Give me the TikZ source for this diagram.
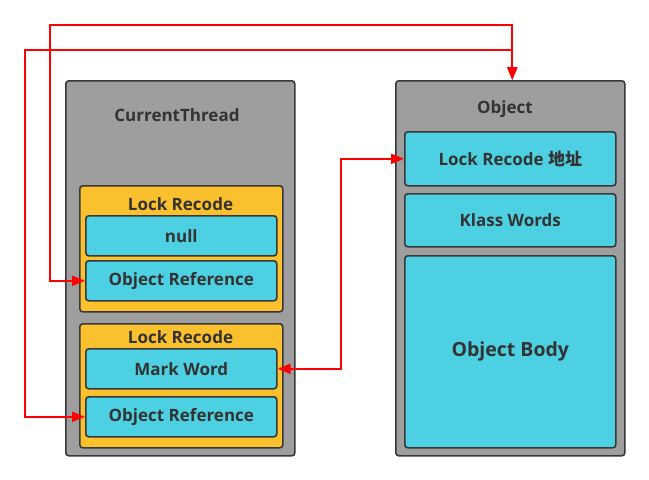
\documentclass[tikz,border=0pt]{standalone}
\usepackage{fontspec}
\setmainfont{Open Sans}
\newfontfamily\cjk{Noto Sans CJK SC}
\usetikzlibrary{arrows.meta,positioning}
\definecolor{framegray}{HTML}{9E9E9E}
\definecolor{lockyellow}{HTML}{FBC02D}
\definecolor{slotcyan}{HTML}{4DD0E1}
\definecolor{edgegray}{HTML}{383838}
\definecolor{textgray}{HTML}{333333}
\definecolor{linkred}{HTML}{FF0000}

\tikzset{
  box/.style={draw=edgegray, line width=1.6pt, rounded corners=3pt,
    inner sep=0pt, anchor=north west},
  frame/.style={box, fill=framegray, minimum width=229pt, minimum height=375pt},
  lock/.style={box, fill=lockyellow, minimum width=203pt},
  slot/.style={box, fill=slotcyan, minimum width=191pt, minimum height=40pt,
    font=\fontsize{17pt}{19pt}\selectfont\bfseries, text=textgray},
  title/.style={font=\fontsize{17pt}{19pt}\selectfont\bfseries, text=textgray,
    inner sep=0pt},
  link/.style={draw=linkred, line width=2pt,
    {Triangle[length=13pt,width=10pt]}-{Triangle[length=13pt,width=10pt]}}
}

\begin{document}
\begin{tikzpicture}[x=1pt,y=-1pt]
\useasboundingbox (0,0) rectangle (649,480);

% thread side
\node[frame] (thread) at (65,80) {};
\node[title] (threadtitle) at (177,115) {CurrentThread};
\node[lock, minimum height=126pt] (lockA) at (79,185) {};
\node[title] (lockAtitle) at (180.5,204) {Lock Recode};
\node[slot] (null) at (85,215) {null};
\node[slot] (refA) at (85,260) {Object Reference};
\node[lock, minimum height=124pt] (lockB) at (79,323) {};
\node[title] (lockBtitle) at (180.5,337) {Lock Recode};
\node[slot] (mark) at (85,348) {Mark Word};
\node[slot] (refB) at (85,396) {Object Reference};

% object side
\node[frame] (object) at (395,80) {};
\node[title] (objecttitle) at (505,109) {Object};
\node[slot, minimum width=211pt, minimum height=54pt] (lockaddr) at (404,131) {Lock Recode {\cjk 地址}};
\node[slot, minimum width=211pt, minimum height=53pt] (klass) at (404,193) {Klass Words};
\node[slot, minimum width=211pt, minimum height=192pt,
  font=\fontsize{19.5pt}{22pt}\selectfont\bfseries] (body) at (404,255) {Object Body};

% links
\coordinate (topA) at (50,25);
\coordinate (topB) at (25,50);
\coordinate (mid) at (341,260);
\draw[link] (refA.west) -| (topA) -| ([xshift=2pt]object.north);
\draw[link] (refB.west) -| (topB) -| ([xshift=2pt]object.north);
\draw[link] (mark.east) -| (mid) |- (lockaddr.west);
\end{tikzpicture}
\end{document}
